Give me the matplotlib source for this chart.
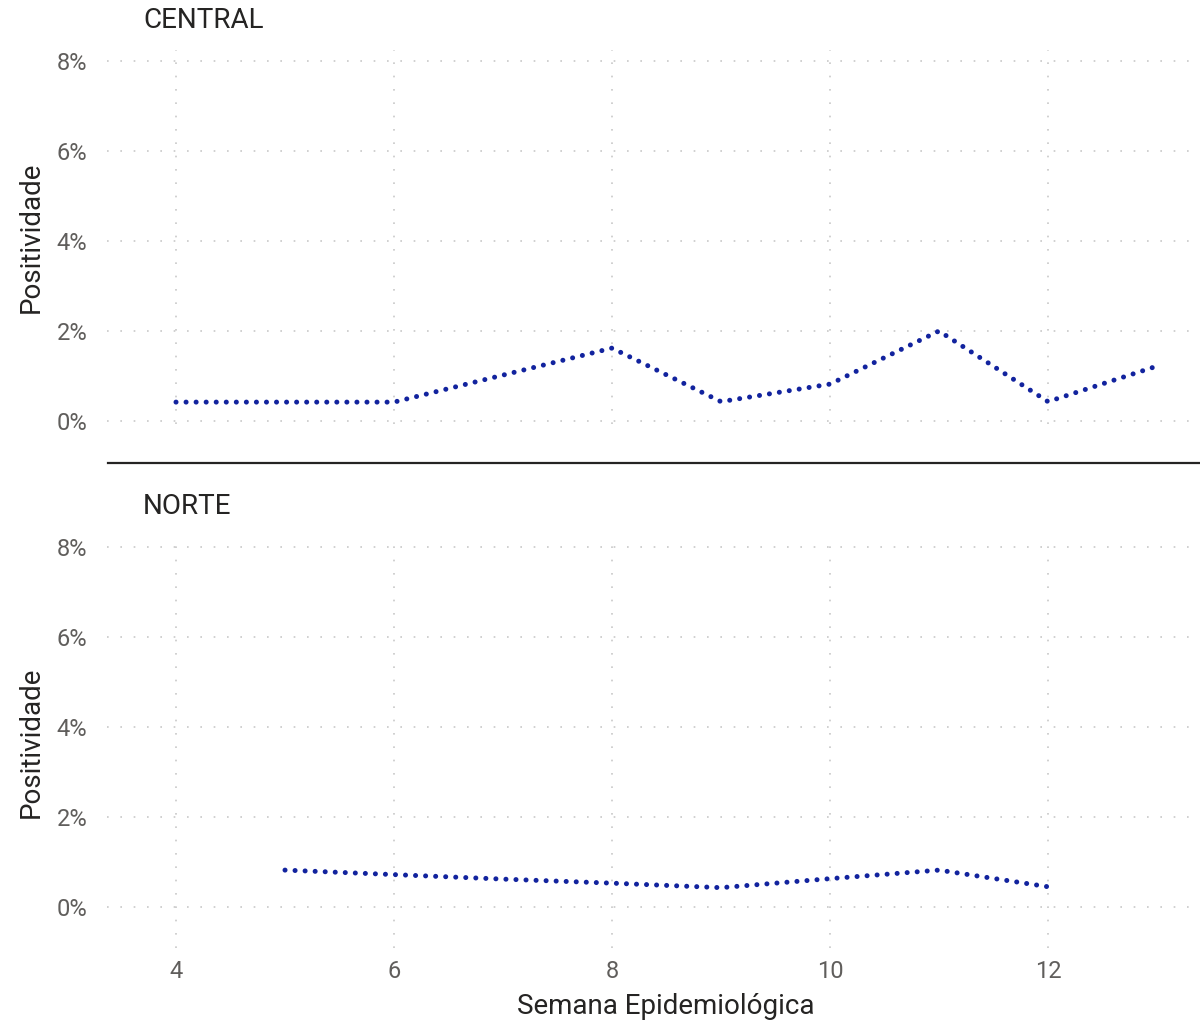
import matplotlib
matplotlib.use("Agg")
import matplotlib.pyplot as plt
from matplotlib.lines import Line2D
from matplotlib.ticker import FuncFormatter

plt.rcParams["font.family"] = ["Roboto", "DejaVu Sans"]

# weekly positivity (%) per region
central_weeks = [4, 5, 6, 7, 8, 9, 10, 11, 12, 13]
central_pos = [0.42, 0.42, 0.42, 1.02, 1.62, 0.43, 0.82, 2.0, 0.43, 1.22]

norte_weeks = [5, 6, 7, 8, 9, 10, 11, 12]
norte_pos = [0.82, 0.72, 0.62, 0.53, 0.43, 0.63, 0.82, 0.45]

panels = [("CENTRAL", central_weeks, central_pos),
          ("NORTE", norte_weeks, norte_pos)]

x_ticks = [4, 6, 8, 10, 12]
y_ticks = [0, 2, 4, 6, 8]

W, H = 1200, 1024
fig = plt.figure(figsize=(W / 100, H / 100), dpi=100)

line_col = "#12239E"
grid_col = "#c8c8c8"
text_col = "#252423"
tick_col = "#605E5C"

# pixel boxes: left, top, right, bottom
boxes = [(107, 50, 1197, 424), (107, 536, 1197, 948)]
px_per_week = 109.0
px_per_pct = 45.0
x0_px, zero_px = 176, [421, 907]


def to_fig(l, t, r, b):
    return [l / W, 1 - b / H, (r - l) / W, (b - t) / H]


for i, (name, weeks, vals) in enumerate(panels):
    l, t, r, b = boxes[i]
    ax = fig.add_axes(to_fig(l, t, r, b))
    ax.set_xlim(4 - (x0_px - l) / px_per_week, 4 + (r - x0_px) / px_per_week)
    ax.set_ylim(-(b - zero_px[i]) / px_per_pct, (zero_px[i] - t) / px_per_pct)

    ax.plot(weeks, vals, color=line_col, lw=3.6,
            linestyle=(0, (0.01, 2.0)), dash_capstyle="round", zorder=3)

    ax.set_xticks(x_ticks)
    ax.set_yticks(y_ticks)
    ax.yaxis.set_major_formatter(FuncFormatter(lambda v, p: f"{v:.0f}%"))
    ax.grid(True, color=grid_col, lw=1.2, linestyle=(0, (1, 7)))
    for s in ax.spines.values():
        s.set_visible(False)
    ax.tick_params(length=0, labelsize=17, labelcolor=tick_col, pad=14)
    ax.tick_params(axis="x", pad=9)
    if i == 0:
        ax.tick_params(axis="x", labelbottom=False)
    else:
        ax.set_xlabel("Semana Epidemiológica", fontsize=20, color=text_col)
        ax.xaxis.set_label_coords((666 - l) / (r - l), -(993 - b) / (b - t))

    ax.set_ylabel("Positividade", fontsize=20, color=text_col)
    ax.yaxis.set_label_coords(-62 / (r - l), 0.5)
    fig.text(143 / W, 1 - (t - 30) / H, name,
             fontsize=20, color=text_col, va="center", ha="left")

# separator between the panels
fig.add_artist(Line2D([108 / W, 1.0], [1 - 463 / H, 1 - 463 / H],
                      color=text_col, lw=1.6))

fig.savefig("out.png", dpi=100)
